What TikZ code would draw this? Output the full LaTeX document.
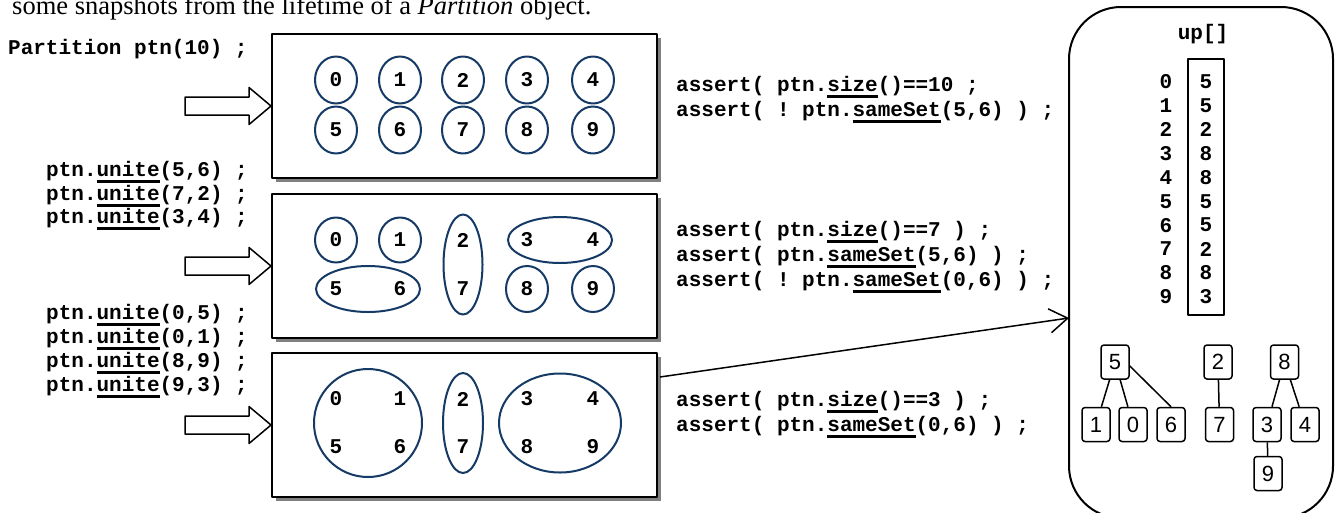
\documentclass[tikz,border=0pt]{standalone}
\usepackage{fontspec}
\setmainfont{Liberation Serif}
\setmonofont{Liberation Mono}
\newfontfamily\treefont{Liberation Sans}
\usetikzlibrary{arrows.meta,calc,shadows}
\definecolor{setblue}{RGB}{22,58,102}
\newcommand\ulw[1]{\setbox0\hbox{#1}\rlap{\rule[-6.5pt]{\wd0}{3pt}}\box0}
\tikzset{
code/.style={font=\ttfamily\bfseries\fontsize{21}{24}\selectfont,inner sep=0,anchor=base west},
digit/.style={font=\ttfamily\bfseries\fontsize{21}{24}\selectfont,inner sep=0},
snapbox/.style={draw,line width=2,fill=white,minimum width=385,minimum height=144,inner sep=0,
  drop shadow={shadow xshift=4pt,shadow yshift=-4pt,fill=gray,opacity=1}},
setline/.style={setblue,line width=2},
leaf/.style={draw,line width=1.5,rounded corners=3,minimum width=28,minimum height=34,inner sep=0,
  font=\treefont\fontsize{22}{24}\selectfont},
}
\begin{document}
\begin{tikzpicture}[x=1pt,y=-1pt,line join=round]
\useasboundingbox (0,0) rectangle (1335,512);
\node[anchor=base west,inner sep=0,font=\fontsize{26.5}{30}\selectfont] (caption) at (12,14.5)
  {some snapshots from the lifetime of a \textit{Partition} object.};
%
\node[snapbox] (snapA) at (464.5,106) {};
\node[snapbox] (snapB) at (464.5,266) {};
\node[snapbox] (snapC) at (464.5,425) {};
\foreach \s in {snapA,snapB,snapC}
\draw[line width=1.5,fill=white] (\s.west) -- ++(-22,-18.5) -- ++(0,9.5) -- ++(-64,0)
  -- ++(0,18) -- ++(64,0) -- ++(0,9.5) -- cycle;
% operations
\node[code] (init) at (8,54.5) {Partition ptn(10) ;};
\foreach \p/\q [count=\i] in {5/6,7/2,3/4}
\node[code] (ua\i) at (46,{153+23.5*\i}) {ptn.\ulw{unite}(\p,\q) ;};
\foreach \p/\q [count=\i] in {0/5,0/1,8/9,9/3}
\node[code] (ub\i) at (46,{295.5+24*\i}) {ptn.\ulw{unite}(\p,\q) ;};
% first snapshot
\foreach \d/\xc/\yc in {0/336/80,1/400/80,2/463/80,3/527/80,4/593/80,5/336/130,6/400/130,7/463/130,8/527/130,9/593/130}{
\node[digit] (a\d) at (\xc,\yc) {\d};
\draw[setline] (a\d) ellipse (21 and 23.5);
}
% second snapshot
\foreach \d/\xc/\yc in {0/336/240,1/400/240,2/463/240,3/527/240,4/593/240,5/336/289,6/400/289,7/463/289,8/527/289,9/593/289}
\node[digit] (b\d) at (\xc,\yc) {\d};
\draw[setline] (b0) ellipse (21 and 22.5) (b1) ellipse (21 and 22.5)
  (b8) ellipse (21 and 23) (b9) ellipse (21 and 23);
\draw[setline] ($(b5)!0.5!(b6)$) ellipse (52 and 23);
\draw[setline] ($(b3)!0.5!(b4)$) ellipse (52 and 23);
\draw[setline] ($(b2)!0.5!(b7)$) ellipse (19.5 and 50);
% third snapshot
\foreach \d/\xc/\yc in {0/336/399,1/400/399,2/463/399,3/527/399,4/593/399,5/336/447,6/400/447,7/463/447,8/527/447,9/593/447}
\node[digit] (c\d) at (\xc,\yc) {\d};
\draw[setline] ($(c0)!0.5!(c6)$) ellipse (54 and 54);
\draw[setline] ($(c2)!0.5!(c7)$) ellipse (20 and 50);
\draw[setline] ($(c3)!0.5!(c9)$) ellipse (61 and 49.5);
% checks
\node[code] (chkA1) at (676,91.5) {assert( ptn.\ulw{size}()==10 ;};
\node[code] (chkA2) at (676,116.5) {assert( ! ptn.\ulw{sameSet}(5,6) ) ;};
\node[code] (chkB1) at (676,236.5) {assert( ptn.\ulw{size}()==7 ) ;};
\node[code] (chkB2) at (676,261.5) {assert( ptn.\ulw{sameSet}(5,6) ) ;};
\node[code] (chkB3) at (676,286.5) {assert( ! ptn.\ulw{sameSet}(0,6) ) ;};
\node[code] (chkC1) at (676,406.5) {assert( ptn.\ulw{size}()==3 ) ;};
\node[code] (chkC2) at (676,431) {assert( ptn.\ulw{sameSet}(0,6) ) ;};
% internal representation
\node[draw,line width=2,rounded corners=52,minimum width=264,minimum height=511,inner sep=0] (forest) at (1201,262.5) {};
\node[code,anchor=base] (uplbl) at (1203,39.5) {up[]};
\node[draw,line width=1.5,minimum width=36,minimum height=256,inner sep=0] (uparr) at (1206,187) {};
\foreach \k/\v in {0/5,1/5,2/2,3/8,4/8,5/5,6/5,7/2,8/8,9/3}{
\node[digit] (idx\k) at (1166,{81.7+23.9*\k}) {\k};
\node[digit] (val\k) at (1206,{81.7+23.9*\k}) {\v};
}
\node[leaf] (t5) at (1115,362) {5};
\node[leaf] (t1) at (1096,424.5) {1};
\node[leaf] (t0) at (1133,424.5) {0};
\node[leaf] (t6) at (1171,424.5) {6};
\node[leaf] (t2) at (1218,362) {2};
\node[leaf] (t7) at (1219.5,424.5) {7};
\node[leaf] (t8) at (1284.5,362) {8};
\node[leaf] (t3) at (1267,424.5) {3};
\node[leaf] (t4) at (1305,424.5) {4};
\node[leaf] (t9) at (1268,473.5) {9};
\draw[line width=1.5] (t5) -- (t1) (t5) -- (t0) (t5.-15) -- (t6.north)
  (t2) -- (t7) (t8) -- (t3) (t8) -- (t4) (t3) -- (t9);
%
\coordinate (from) at (660,377);
\coordinate (into) at (1069,318);
\draw[line width=1.5,-{Straight Barb[length=18pt,width=24pt]}] (from) -- (into);
\end{tikzpicture}
\end{document}
